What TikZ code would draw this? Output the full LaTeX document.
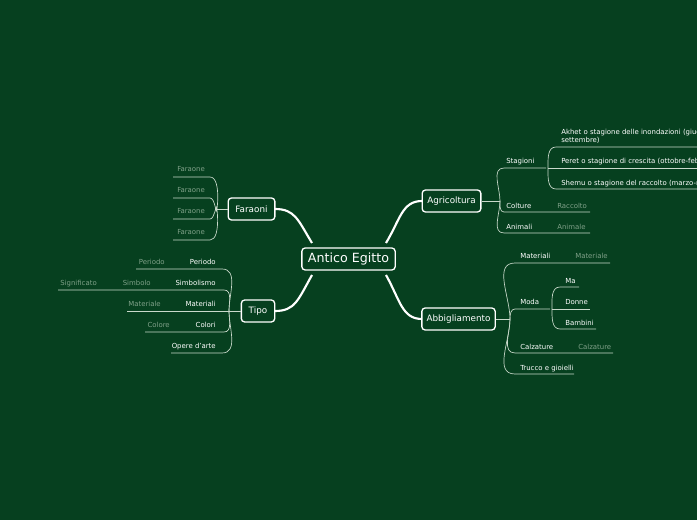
\documentclass[tikz,border=0pt]{standalone}
\usepackage{fontspec}
\setmainfont{DejaVu Sans}
\definecolor{bg}{HTML}{06401F}
\definecolor{ln}{HTML}{C9D9CB}
\definecolor{gr}{HTML}{7FA088}
\begin{document}
\begin{tikzpicture}[x=0.75pt,y=-0.75pt,
  lab/.style={anchor=base west,inner sep=0,text=white,font=\fontsize{5.2}{6}\selectfont},
  labr/.style={anchor=base east,inner sep=0,text=white,font=\fontsize{5.2}{6}\selectfont},
  glab/.style={lab,text=gr},
  glabr/.style={labr,text=gr},
  box/.style={draw=white,line width=1pt,rounded corners=2.5pt,fill=bg,text=white,inner sep=0pt,minimum height=16.5pt,font=\fontsize{6.6}{8}\selectfont},
  ul/.style={draw=ln,line width=0.5pt},
  thick/.style={draw=white,line width=1.6pt}]
\fill[bg] (0,0) rectangle (697,520);
\useasboundingbox (0,0) rectangle (697,520);
% main connectors
\coordinate (cTR) at (386,243); \coordinate (cBR) at (386,275);
\coordinate (cTL) at (312,243); \coordinate (cBL) at (312,275);
\draw[thick] (cTR) .. controls (400,220) and (402,201) .. (422,201);
\draw[thick] (cBR) .. controls (400,300) and (402,319) .. (422,319);
\draw[thick] (cTL) .. controls (298,220) and (295,209) .. (275,209);
\draw[thick] (cBL) .. controls (298,300) and (295,311) .. (275,311);
\node[box,minimum width=70pt,font=\fontsize{9.5}{11}\selectfont] (root) at (348.5,259) {Antico Egitto};
\node[box,minimum width=44pt] (agr) at (451.5,201) {Agricoltura};
\node[box,minimum width=55pt] (abb) at (458.5,319) {Abbigliamento};
\node[box,minimum width=35pt] (far) at (251.5,209) {Faraoni};
\node[box,minimum width=25pt] (tipo) at (258,311) {Tipo};
% Agricoltura
\coordinate (ja) at (500,201);
\draw[ul] (agr.east) -- (ja);
\node[lab] (stag) at (506,163.5) {Stagioni};
\node[lab] (colt) at (506,208.5) {Colture};
\node[glab] (racc) at (557,208.5) {Raccolto};
\node[lab] (anim) at (506,229.5) {Animali};
\node[glab] (animale) at (557,229.5) {Animale};
\draw[ul] (ja) to[out=90,in=180] (504,168) -- (546,168);
\draw[ul] (ja) to[out=-90,in=180] (504,212) -- (590,212);
\draw[ul] (ja) to[out=-90,in=180] (504,233) -- (590,233);
\coordinate (js) at (548,168);
\node[lab,align=left,anchor=north west] (akh) at (561,128.5) {Akhet o stagione delle inondazioni (giugno-\\settembre)};
\node[lab] (per) at (561,163.5) {Peret o stagione di crescita (ottobre-febbraio)};
\node[lab] (she) at (561,185.5) {Shemu o stagione del raccolto (marzo-maggio)};
\draw[ul] (js) to[out=90,in=180] (556,147) -- (697,147);
\draw[ul] (js) -- (697,168);
\draw[ul] (js) to[out=-90,in=180] (556,189) -- (697,189);
% Abbigliamento
\coordinate (jb) at (510,319);
\draw[ul] (abb.east) -- (jb);
\node[lab] (mat) at (520,258.5) {Materiali};
\node[glab] (matg) at (575,258.5) {Materiale};
\node[lab] (moda) at (520,304.5) {Moda};
\node[lab] (calz) at (520,349.5) {Calzature};
\node[glab] (calzg) at (578,349.5) {Calzature};
\node[lab] (truc) at (520,370.5) {Trucco e gioielli};
\draw[ul] (jb) to[out=90,in=180] (515,263) -- (610,263);
\draw[ul] (jb) to[out=90,in=180] (515,309) -- (550,309);
\draw[ul] (jb) to[out=-90,in=180] (515,353) -- (613,353);
\draw[ul] (jb) to[out=-90,in=180] (515,374) -- (574,374);
\coordinate (jm) at (552,309);
\node[lab] (ma) at (565,283.5) {Ma};
\node[lab] (don) at (565,304.5) {Donne};
\node[lab] (bam) at (565,325.5) {Bambini};
\draw[ul] (jm) to[out=90,in=180] (560,287) -- (579,287);
\draw[ul] (jm) to[out=-90,in=180] (560,329) -- (596,329);
\draw[ul] (jm) -- (590,309);
% Faraoni
\coordinate (jf) at (216,209);
\draw[ul] (far.west) -- (jf);
\foreach \y/\n in {177/f1,198/f2,219/f3,240/f4}{
  \node[glab] (\n) at (177,\y-5.5) {Faraone};
  \ifnum\y<209 \draw[ul] (jf) to[out=-90,in=0] (210,\y) -- (173,\y);
  \else \draw[ul] (jf) to[out=90,in=0] (210,\y) -- (173,\y); \fi
}
% Tipo
\coordinate (jt) at (229,311);
\draw[ul] (tipo.west) -- (jt);
\node[labr] (per2) at (216,264.5) {Periodo};
\node[glabr] (per2g) at (165,264.5) {Periodo};
\node[labr] (sim) at (216,285.5) {Simbolismo};
\node[glabr] (simg) at (151,285.5) {Simbolo};
\node[glabr] (sig) at (97,285.5) {Significato};
\node[labr] (mat2) at (216,306.5) {Materiali};
\node[glabr] (mat2g) at (161,306.5) {Materiale};
\node[labr] (col) at (216,327.5) {Colori};
\node[glabr] (colg) at (170,327.5) {Colore};
\node[labr] (ope) at (216,348.5) {Opere d'arte};
\draw[ul] (jt) to[out=90,in=0] (222,269) -- (136,269);
\draw[ul] (jt) to[out=90,in=0] (224,290) -- (58,290);
\draw[ul] (jt) -- (127,311);
\draw[ul] (jt) to[out=-90,in=0] (224,332) -- (145,332);
\draw[ul] (jt) to[out=-90,in=0] (222,353) -- (171,353);
\end{tikzpicture}
\end{document}
